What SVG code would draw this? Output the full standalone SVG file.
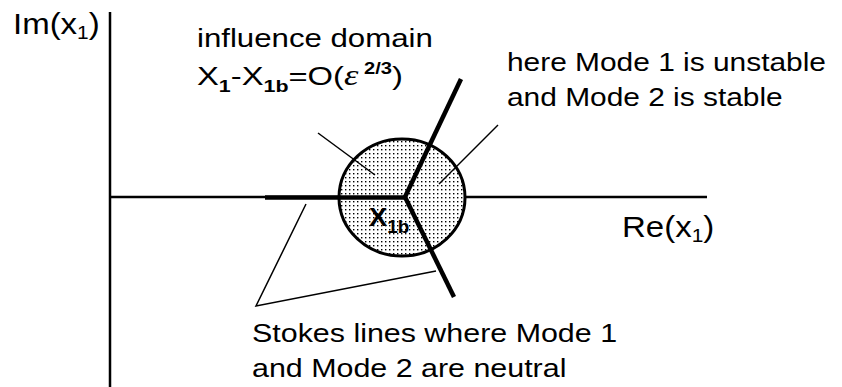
<svg xmlns="http://www.w3.org/2000/svg" width="842" height="387" viewBox="0 0 842 387">
  <defs>
    <pattern id="dots" x="0" y="0" width="4" height="4" patternUnits="userSpaceOnUse">
      <rect x="0" y="0" width="4" height="4" fill="#ffffff"/>
      <rect x="1" y="1" width="1.4" height="1.4" fill="#000000"/>
    </pattern>
  </defs>
  <style>
    .t { font-family: "Liberation Sans", Arial, sans-serif; font-size: 26px; fill: #000; }
    .big { font-family: "Liberation Sans", Arial, sans-serif; font-size: 30px; fill: #000; }
    .axis { stroke: #000; stroke-width: 2.5; fill: none; }
    .stokes { stroke: #000; stroke-width: 4.5; fill: none; stroke-linecap: butt; }
    .leader { stroke: #000; stroke-width: 1.5; fill: none; }
    .dom { stroke: #000; stroke-width: 3; fill: url(#dots); }
  </style>
  <rect x="0" y="0" width="842" height="387" fill="#ffffff"/>

  <g id="axes">
    <line class="axis" x1="110" y1="12" x2="110" y2="387"/>
    <line class="axis" x1="110" y1="197" x2="707" y2="197"/>
    <text class="big" transform="translate(13 34) scale(1.1 1)">Im(x<tspan font-size="19" dy="5">1</tspan><tspan dy="-5">)</tspan></text>
    <text class="big" transform="translate(622 237) scale(1.1 1)">Re(x<tspan font-size="19" dy="5">1</tspan><tspan dy="-5">)</tspan></text>
  </g>

  <g id="influence-domain">
    <ellipse class="dom" cx="402" cy="197.5" rx="63" ry="58.5"/>
    <text class="t" font-weight="bold" transform="translate(369 226) scale(1.05 1)">X<tspan font-size="18" dy="7">1b</tspan></text>
  </g>

  <g id="stokes-lines">
    <line class="stokes" x1="265" y1="197.5" x2="405" y2="197.5"/>
    <line class="stokes" x1="405" y1="197" x2="461" y2="79"/>
    <line class="stokes" x1="405" y1="197" x2="454" y2="297"/>
  </g>

  <g id="connectors">
    <line class="leader" x1="318" y1="133" x2="375" y2="175"/>
    <line class="leader" x1="498" y1="125" x2="439" y2="184"/>
    <polyline class="leader" points="306,204 256,306 436,271"/>
  </g>

  <g id="label-domain">
    <text class="t" transform="translate(197 47) scale(1.2 1)">influence domain</text>
    <text class="t" transform="translate(197 85) scale(1.26 1)">X<tspan font-size="17" font-weight="bold" dy="7">1</tspan><tspan dy="-7">-X</tspan><tspan font-size="17" font-weight="bold" dy="7">1b</tspan><tspan dy="-7">=O(</tspan><tspan font-family="Liberation Serif, serif" font-style="italic" font-size="29">ε</tspan><tspan font-size="16" font-weight="bold" dy="-11"> 2/3</tspan><tspan dy="11">)</tspan></text>
  </g>

  <g id="label-unstable">
    <text class="t" transform="translate(507 71) scale(1.15 1)">here Mode 1 is unstable</text>
    <text class="t" transform="translate(507 106) scale(1.15 1)">and Mode 2 is stable</text>
  </g>

  <g id="label-stokes">
    <text class="t" transform="translate(252 342) scale(1.17 1)">Stokes lines where Mode 1</text>
    <text class="t" transform="translate(252 377) scale(1.17 1)">and Mode 2 are neutral</text>
  </g>
</svg>
